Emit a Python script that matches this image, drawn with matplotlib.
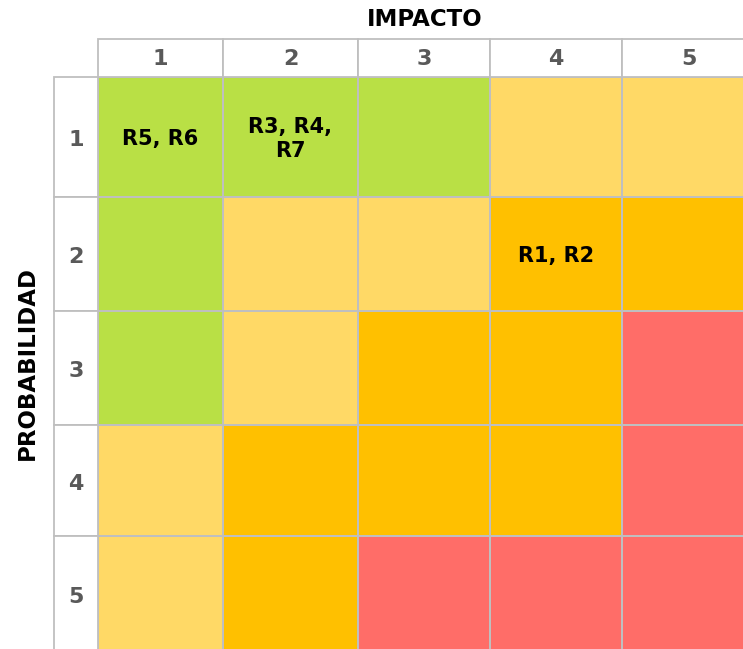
import numpy as np
import matplotlib.pyplot as plt
from matplotlib.colors import ListedColormap
from matplotlib.patches import Rectangle

impacto = ["1", "2", "3", "4", "5"]
probabilidad = ["1", "2", "3", "4", "5"]

# 0 = bajo (verde), 1 = medio (amarillo), 2 = alto (naranja), 3 = extremo (rojo)
nivel = [
    [0, 0, 0, 1, 1],
    [0, 1, 1, 2, 2],
    [0, 1, 2, 2, 3],
    [1, 2, 2, 2, 3],
    [1, 2, 3, 3, 3],
]

riesgos = {
    (0, 0): "R5, R6",
    (0, 1): "R3, R4,\nR7",
    (1, 3): "R1, R2",
}

COLORES = ["#B9E045", "#FFD966", "#FFC000", "#FF6D68"]
BORDE = "#BFBFBF"
GRIS = "#595959"

plt.rcParams["font.family"] = ["DejaVu Sans"]

W, H = 743, 649
fig = plt.figure(figsize=(W / 100, H / 100), dpi=100)
ax = fig.add_axes([0, 0, 1, 1])
ax.set_xlim(0, W)
ax.set_ylim(H, 0)
ax.axis("off")

# bordes de celdas en pixeles
xe = np.array([98, 223, 358, 490, 622, 756])
ye = np.array([77, 197, 311, 425, 536, 652])
head_top = 39
lab_left = 54

cmap = ListedColormap(COLORES)
ax.pcolormesh(xe, ye, np.array(nivel), cmap=cmap, vmin=-0.5, vmax=3.5,
              edgecolors=BORDE, linewidth=1.3)

for j, lab in enumerate(impacto):
    ax.add_patch(Rectangle((xe[j], head_top), xe[j + 1] - xe[j], ye[0] - head_top,
                           facecolor="white", edgecolor=BORDE, lw=1.3))
    ax.text((xe[j] + xe[j + 1]) / 2, (head_top + ye[0]) / 2 + 1, lab,
            ha="center", va="center", fontsize=16, fontweight="bold", color=GRIS)

for i, lab in enumerate(probabilidad):
    ax.add_patch(Rectangle((lab_left, ye[i]), xe[0] - lab_left, ye[i + 1] - ye[i],
                           facecolor="white", edgecolor=BORDE, lw=1.3))
    ax.text((lab_left + xe[0]) / 2, (ye[i] + ye[i + 1]) / 2 + 3, lab,
            ha="center", va="center", fontsize=16, fontweight="bold", color=GRIS)

for (i, j), txt in riesgos.items():
    ax.text((xe[j] + xe[j + 1]) / 2, (ye[i] + ye[i + 1]) / 2 + 2, txt,
            ha="center", va="center", fontsize=15, fontweight="bold",
            color="black", linespacing=1.25)

ax.text(425, 19, "IMPACTO", ha="center", va="center",
        fontsize=16.5, fontweight="bold", color="black")
ax.text(27, 363, "PROBABILIDAD", ha="center", va="center",
        rotation=90, fontsize=16.5, fontweight="bold", color="black")

fig.savefig("out.png", dpi=100)
